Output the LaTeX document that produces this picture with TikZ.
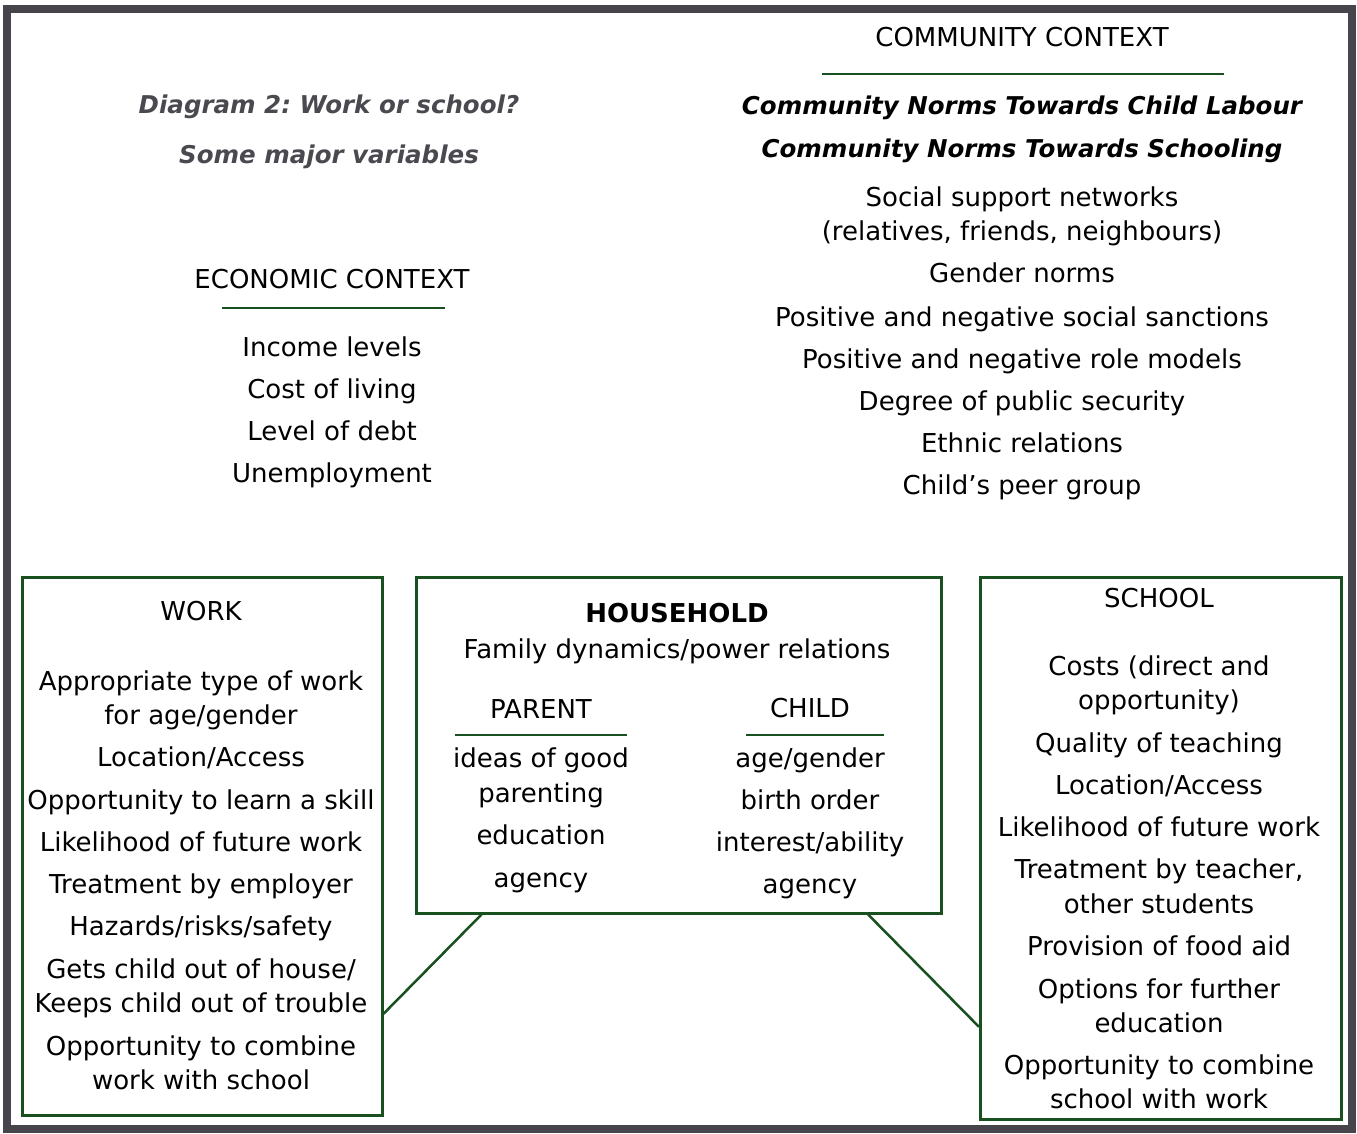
\documentclass[tikz,border=0pt]{standalone}
\usepackage{fontspec}
\setmainfont{DejaVu Sans}
\usetikzlibrary{calc}
\frenchspacing

\definecolor{boxgreen}{RGB}{24,80,32}
\definecolor{framegray}{RGB}{71,69,75}
\definecolor{titlegray}{RGB}{74,73,79}

\tikzset{
  txt/.style={inner sep=0pt, align=center, anchor=base, font=\fontsize{26}{34}\selectfont},
  norm/.style={txt, font=\fontsize{24.5}{34}\selectfont\bfseries\itshape},
  box/.style={draw=boxgreen, line width=2.5pt, anchor=north west, inner sep=0pt},
  rule/.style={draw=boxgreen, line width=2.5pt},
  link/.style={draw=boxgreen, line width=2.5pt}
}

\begin{document}
\begin{tikzpicture}[x=1pt,y=-1pt]
  \useasboundingbox (0,0) rectangle (1357,1133);
  \draw[framegray, line width=8pt] (7,9) rectangle (1352,1129);

  % title (base anchor sits on the last line)
  \node[norm, text=titlegray] (title) at (329,163) {Diagram 2: Work or school?\\[16pt]Some major variables};

  % economic context
  \node[txt] (eco) at (332,288) {ECONOMIC CONTEXT};
  \draw[rule] (222,308) -- (445,308);
  \node[txt] (ecolist) at (332,482) {Income levels\\[8pt]Cost of living\\[8pt]Level of debt\\[8pt]Unemployment};

  % community context
  \node[txt] (comm) at (1022,46) {COMMUNITY CONTEXT};
  \draw[rule] (822,74) -- (1224,74);
  \node[norm] (commnorms) at (1022,157) {Community Norms Towards Child Labour\\[9pt]Community Norms Towards Schooling};
  \node[txt] (commlist) at (1022,494) {Social support networks\\(relatives, friends, neighbours)\\[8pt]Gender norms\\[10pt]Positive and negative social sanctions\\[8pt]Positive and negative role models\\[8pt]Degree of public security\\[8pt]Ethnic relations\\[8pt]Child’s peer group};

  % the three boxes
  \node[box, minimum width=360pt, minimum height=538pt] (work) at (21,576) {};
  \node[box, minimum width=525pt, minimum height=336pt] (house) at (415,576) {};
  \node[box, minimum width=361pt, minimum height=542pt] (school) at (979,576) {};

  % work
  \node[txt] (worktitle) at (201,620) {WORK};
  \node[txt] (worklist) at (201,1089) {Appropriate type of work\\for age/gender\\[8pt]Location/Access\\[9pt]Opportunity to learn a skill\\[8pt]Likelihood of future work\\[8pt]Treatment by employer\\[8pt]Hazards/risks/safety\\[9pt]Gets child out of house/\\Keeps child out of trouble\\[9pt]Opportunity to combine\\work with school};

  % household
  \node[txt] (housetitle) at (677,658) {{\bfseries HOUSEHOLD}\\[2pt]Family dynamics/power relations};
  \node[txt] (parent) at (541,718) {PARENT};
  \draw[rule] (455,735) -- (627,735);
  \node[txt] (child) at (810,717) {CHILD};
  \draw[rule] (746,735) -- (884,735);
  \node[txt] (parentlist) at (541,887) {ideas of good\\[1pt]parenting\\[8pt]education\\[9pt]agency};
  \node[txt] (childlist) at (810,893) {age/gender\\[8pt]birth order\\[8pt]interest/ability\\[8pt]agency};

  % school
  \node[txt] (schooltitle) at (1159,607) {SCHOOL};
  \node[txt] (schoollist) at (1159,1108) {Costs (direct and\\opportunity)\\[9pt]Quality of teaching\\[8pt]Location/Access\\[8pt]Likelihood of future work\\[8pt]Treatment by teacher,\\[1pt]other students\\[8pt]Provision of food aid\\[9pt]Options for further\\education\\[8pt]Opportunity to combine\\school with work};

  % links from the household
  \draw[link] ($(house.south west)!0.126!(house.south east)$) -- ($(work.north east)!0.81!(work.south east)$);
  \draw[link] ($(house.south west)!0.859!(house.south east)$) -- ($(school.north west)!0.828!(school.south west)$);
\end{tikzpicture}
\end{document}
